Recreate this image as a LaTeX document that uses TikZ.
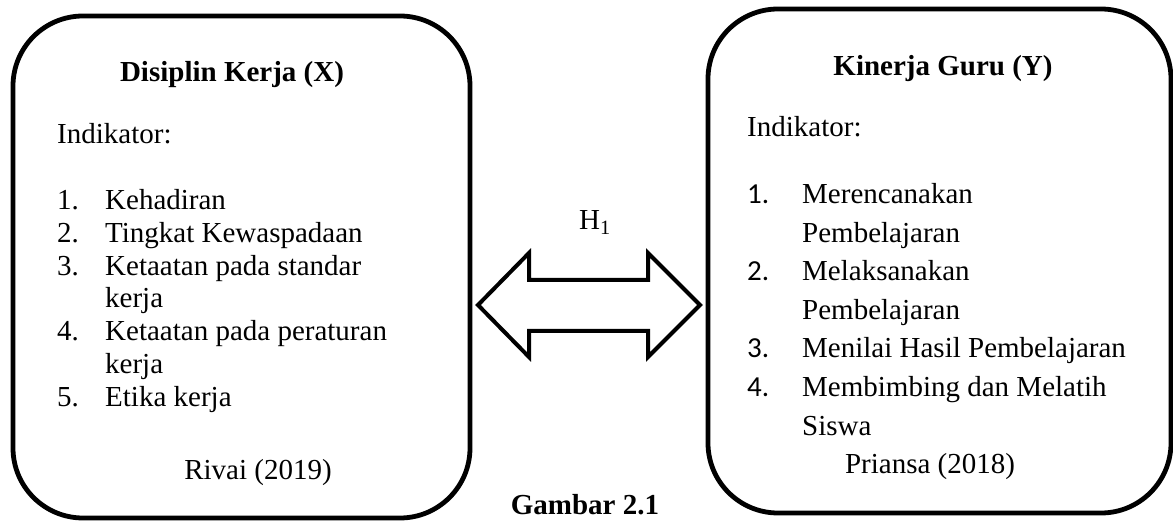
\documentclass[tikz,border=0pt]{standalone}
\usepackage{fontspec}
\setmainfont{Liberation Serif}
\newfontfamily\numfont{Carlito}
\tikzset{
  box/.style={draw, line width=4.8pt, rounded corners=70pt, inner sep=0pt},
  txt/.style={anchor=base west, inner sep=0pt, font=\fontsize{29}{33}\selectfont},
  ctxt/.style={anchor=base, inner sep=0pt, font=\fontsize{29}{33}\selectfont},
  ttl/.style={anchor=base, inner sep=0pt, font=\fontsize{29}{33}\selectfont\bfseries},
  dblarrow/.style={draw, line width=4pt, line join=miter, fill=white}
}
\begin{document}
\begin{tikzpicture}[x=1pt,y=-1pt]
\useasboundingbox (0,0) rectangle (1173,521);
% boxes
\node[box, minimum width=457pt, minimum height=502pt] (L) at (241.5,267) {};
\node[box, minimum width=463pt, minimum height=504pt] (R) at (939.5,261) {};
% left box text
\node[ttl] (lt) at (232,82) {Disiplin Kerja (X)};
\node[txt] (li) at (57,144) {Indikator:};
\node[txt] (ln1) at (57,210) {1.};
\node[txt] (l1) at (105,210) {Kehadiran};
\node[txt] (ln2) at (57,242.7) {2.};
\node[txt] (l2) at (105,242.7) {Tingkat Kewaspadaan};
\node[txt] (ln3) at (57,275.4) {3.};
\node[txt] (l3) at (105,275.4) {Ketaatan pada standar};
\node[txt] (l3b) at (105,308) {kerja};
\node[txt] (ln4) at (57,340.8) {4.};
\node[txt] (l4) at (105,340.8) {Ketaatan pada peraturan};
\node[txt] (l4b) at (105,373.5) {kerja};
\node[txt] (ln5) at (57,406) {5.};
\node[txt] (l5) at (105,406) {Etika kerja};
\node[ctxt] (lsrc) at (258,479) {Rivai (2019)};
% right box text
\node[ttl] (rt) at (943,76) {Kinerja Guru (Y)};
\node[txt] (ri) at (747,137) {Indikator:};
\node[txt] (rn1) at (747,204) {\numfont 1.};
\node[txt] (r1) at (802,204) {Merencanakan};
\node[txt] (r1b) at (802,242.5) {Pembelajaran};
\node[txt] (rn2) at (747,281) {\numfont 2.};
\node[txt] (r2) at (802,281) {Melaksanakan};
\node[txt] (r2b) at (802,319.5) {Pembelajaran};
\node[txt] (rn3) at (747,358) {\numfont 3.};
\node[txt] (r3) at (802,358) {Menilai Hasil Pembelajaran};
\node[txt] (rn4) at (747,396.5) {\numfont 4.};
\node[txt] (r4) at (802,396.5) {Membimbing dan Melatih};
\node[txt] (r4b) at (802,435) {Siswa};
\node[ctxt] (rsrc) at (930,473) {Priansa (2018)};
% hypothesis label and double arrow
\node[ctxt] (h) at (595,230) {H\textsubscript{1}};
\coordinate (tl) at (478,305);
\coordinate (tr) at (700,305);
\draw[dblarrow] (tl) -- (529,253) -- (529,280) -- (648,280) -- (648,253) -- (tr)
  -- (648,357) -- (648,331) -- (529,331) -- (529,357) -- cycle;
% caption
\node[ttl] (cap) at (585,514) {Gambar 2.1};
\end{tikzpicture}
\end{document}
